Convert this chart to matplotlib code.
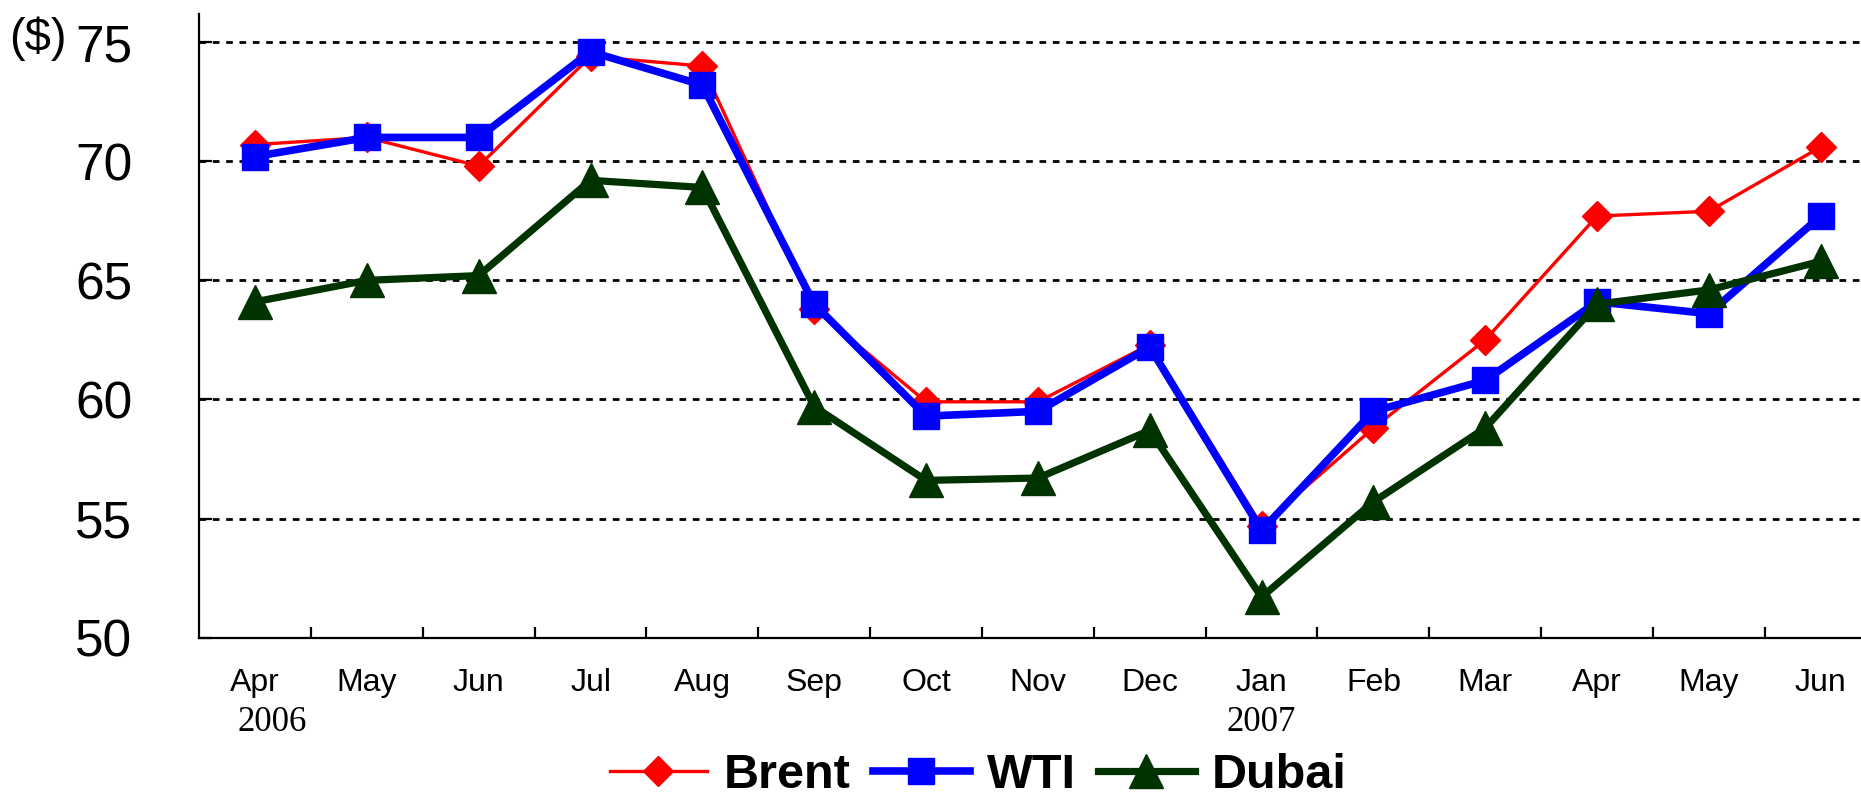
import matplotlib
matplotlib.use("Agg")
import matplotlib.pyplot as plt
import numpy as np

plt.rcParams['font.family'] = ['Liberation Sans', 'DejaVu Sans']

# --------------------------------------
# Data (monthly crude prices, $/bbl)
# --------------------------------------
months = ["Apr", "May", "Jun", "Jul", "Aug", "Sep", "Oct", "Nov", "Dec",
          "Jan", "Feb", "Mar", "Apr", "May", "Jun"]
year_labels = {0: "2006", 9: "2007"}

brent = [70.7, 71.0, 69.8, 74.4, 74.0, 63.8, 59.9, 59.9, 62.3,
         54.7, 58.8, 62.5, 67.7, 67.9, 70.6]
wti = [70.2, 71.0, 71.0, 74.6, 73.2, 64.0, 59.3, 59.5, 62.2,
       54.5, 59.5, 60.8, 64.1, 63.6, 67.7]
dubai = [64.1, 65.0, 65.2, 69.2, 68.9, 59.7, 56.6, 56.7, 58.7,
         51.7, 55.7, 58.8, 64.0, 64.6, 65.8]

yticks = [50, 55, 60, 65, 70, 75]

# --------------------------------------
# Plot
# --------------------------------------
fig = plt.figure(figsize=(18.61, 8), dpi=100)
ax = fig.add_axes([0.107, 0.203, 0.893, 0.78])

x = np.arange(len(months))

ax.plot(x, brent, color="#FF0000", lw=2.4, marker="D", ms=15,
        label="Brent", zorder=3)
ax.plot(x, wti, color="#0000FF", lw=5.5, marker="s", ms=19,
        label="WTI", zorder=4)
ax.plot(x, dubai, color="#003300", lw=5.2, marker="^", ms=25,
        label="Dubai", zorder=5)

ax.set_xlim(-0.5, 14.36)
ax.set_ylim(50, 76.2)

# y axis
ax.set_yticks(yticks)
ax.tick_params(axis="y", direction="in", length=9, width=1.6,
               labelsize=37, pad=48)
ax.yaxis.grid(True, linestyle=(0, (2.4, 2.4)), linewidth=2.0, color="black")
ax.set_axisbelow(True)

# x axis: ticks between months, labels at months
ax.set_xticks(x[:-1] + 0.5)
ax.set_xticklabels([])
ax.set_xticks(x, minor=True)
ax.set_xticklabels(months, minor=True)
ax.tick_params(axis="x", which="major", direction="in", length=8, width=1.6)
ax.tick_params(axis="x", which="minor", length=0, labelsize=23, pad=22)

for i, yr in year_labels.items():
    ax.annotate(yr, xy=(i + (0.15 if i == 0 else 0.0), 0), xycoords=("data", "axes fraction"),
                xytext=(0, -61), textcoords="offset points", ha="center", va="center",
                fontsize=25, family="Liberation Serif")

ax.spines["top"].set_visible(False)
ax.spines["right"].set_visible(False)
ax.spines["left"].set_linewidth(1.6)
ax.spines["bottom"].set_linewidth(1.6)

fig.text(0.005, 0.952, "($)", fontsize=34, ha="left", va="center")

fig.legend(loc="center", bbox_to_anchor=(0.5256, 0.03), ncol=3, frameon=False,
           prop={"weight": "bold", "size": 35}, numpoints=1,
           handlelength=2.0, handletextpad=0.35, columnspacing=0.45)

fig.savefig("out.png", dpi=100)
plt.close(fig)
